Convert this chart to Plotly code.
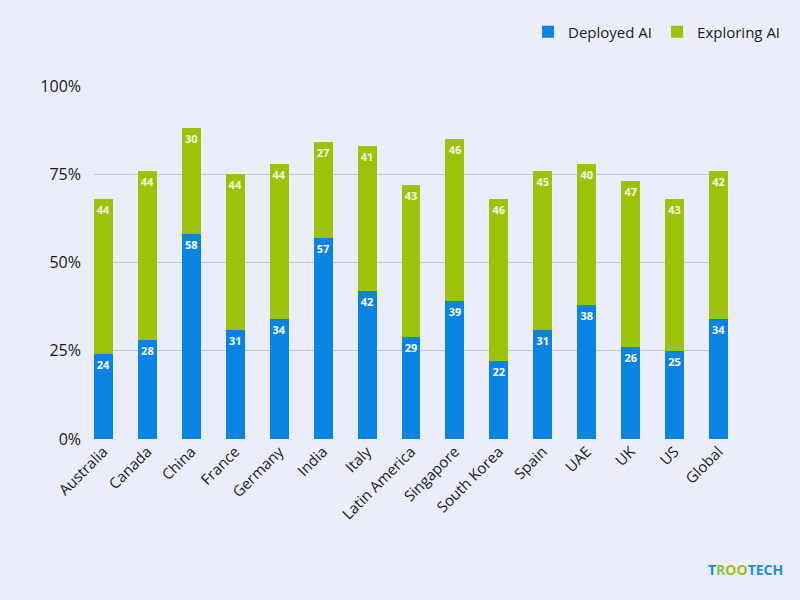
import plotly.graph_objects as go

categories = ["Australia", "Canada", "China", "France", "Germany", "India", "Italy",
              "Latin America", "Singapore", "South Korea", "Spain", "UAE", "UK", "US", "Global"]
deployed = [24, 28, 58, 31, 34, 57, 42, 29, 39, 22, 31, 38, 26, 25, 34]
exploring = [44, 48, 30, 44, 44, 27, 41, 43, 46, 46, 45, 40, 47, 43, 42]
deployed_labels = ["24", "28", "58", "31", "34", "57", "42", "29", "39", "22", "31", "38", "26", "25", "34"]
exploring_labels = ["44", "44", "30", "44", "44", "27", "41", "43", "46", "46", "45", "40", "47", "43", "42"]
y_ticks = [0, 25, 50, 75, 100]
y_tick_labels = ["0%", "25%", "50%", "75%", "100%"]

BLUE = "#0984E3"
GREEN = "#9CC20A"
BG = "#EBEDFA"
FONT = "Open Sans"
W = 0.43

fig = go.Figure()
fig.add_trace(go.Bar(
    x=list(range(len(categories))), y=deployed, name="Deployed AI",
    marker=dict(color=BLUE, line=dict(width=0)), width=W,
    text=deployed_labels, textposition="inside", insidetextanchor="end",
    textfont=dict(color="white", size=11, family=FONT, weight="bold"),
    textangle=0,
))
fig.add_trace(go.Bar(
    x=list(range(len(categories))), y=exploring, name="Exploring AI",
    marker=dict(color=GREEN, line=dict(width=0)), width=W,
    text=exploring_labels, textposition="inside", insidetextanchor="end",
    textfont=dict(color="#F4F8E0", size=11, family=FONT, weight="bold"),
    textangle=0,
))

fig.update_layout(
    barmode="stack",
    width=800, height=600,
    paper_bgcolor=BG, plot_bgcolor=BG,
    margin=dict(l=94, r=72, t=86, b=161),
    font=dict(family=FONT, color="#1a1a1a", size=15),
    legend=dict(orientation="h", x=1.09, xanchor="right", y=1.153, yanchor="middle",
                font=dict(size=15, color="#1a1a1a"), traceorder="normal",
                itemwidth=30, bgcolor="rgba(0,0,0,0)"),
    uniformtext=dict(minsize=11, mode="show"),
    showlegend=True,
)
fig.update_xaxes(
    tickmode="array", tickvals=list(range(len(categories))), ticktext=categories,
    tickangle=-45, range=[-W / 2, len(categories) - 1 + W / 2],
    showgrid=False, zeroline=False, showline=False, ticks="",
    tickfont=dict(size=15, color="#1a1a1a"),
)
fig.update_yaxes(
    range=[0, 100], tickmode="array", tickvals=y_ticks, ticktext=y_tick_labels,
    showgrid=True, gridcolor="#C3C6D6", gridwidth=1, zeroline=False,
    showline=False, ticks="", ticklabelstandoff=12,
    tickfont=dict(size=16, color="#1a1a1a"),
)
fig.add_annotation(
    xref="paper", yref="paper", x=1.09, y=-0.37, xanchor="right", yanchor="middle",
    showarrow=False,
    text="<b><span style='color:#0A8FD0'>T</span><span style='color:#8CC63F'>R</span>"
         "<span style='color:#9CC20A'>OO</span><span style='color:#1E90D6'>TECH</span></b>",
    font=dict(size=14, family=FONT),
)

fig.write_html("out.html", config={"displayModeBar": False},
               post_script="document.body.style.margin='0';document.body.style.background='#EBEDFA';")
